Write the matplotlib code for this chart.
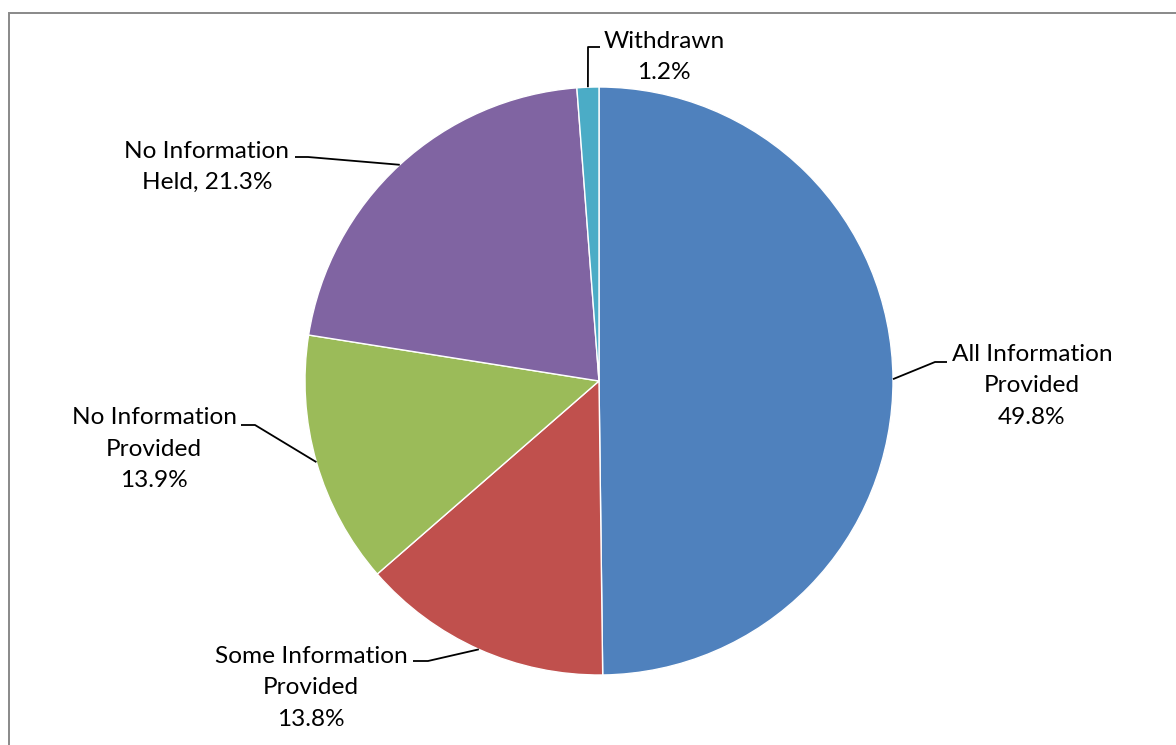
import numpy as np
import matplotlib.pyplot as plt
from matplotlib.patches import Rectangle

categories = ["All Information\nProvided", "Some Information\nProvided",
              "No Information\nProvided", "No Information\nHeld", "Withdrawn"]
shares = [49.8, 13.8, 13.9, 21.3, 1.2]
colors = ["#4F81BD", "#C0504D", "#9BBB59", "#8064A2", "#4BACC6"]
label_texts = ["All Information\nProvided\n49.8%", "Some Information\nProvided\n13.8%",
               "No Information\nProvided\n13.9%", "No Information\nHeld, 21.3%",
               "Withdrawn\n1.2%"]

W, H = 1176, 745
fig = plt.figure(figsize=(W / 100, H / 100), dpi=100)
ax = fig.add_axes([0, 0, 1, 1])

# chart frame (cut off at right and bottom)
fig.patches.append(Rectangle((9 / W, -0.1), 1.2, (H - 13) / H + 0.1,
                             transform=fig.transFigure, fill=False,
                             edgecolor="#898989", linewidth=1.4))

cx, cy, r = 599, H - 381, 294
wedges, _ = ax.pie(shares, colors=colors, startangle=90, counterclock=False,
                   center=(cx, cy), radius=r, frame=True,
                   wedgeprops=dict(edgecolor="white", linewidth=1))
ax.set_xlim(0, W)
ax.set_ylim(0, H)
ax.set_aspect("equal")
ax.axis("off")

# label layout: text centre, elbow and end of leader line (image pixels)
layout = [
    dict(text=(1032, 386), elbow=(935, 362), end=(947, 362)),
    dict(text=(311, 688), elbow=(428, 661), end=(413, 661)),
    dict(text=(154, 449), elbow=(255, 425), end=(241, 425)),
    dict(text=(207, 167), elbow=(308, 157), end=(295, 157)),
    dict(text=(664, 57), elbow=(588, 47), end=(600, 47)),
]

for w, lab, lay in zip(wedges, label_texts, layout):
    ang = np.deg2rad((w.theta1 + w.theta2) / 2)
    ex, ey = cx + r * np.cos(ang), cy + r * np.sin(ang)
    xs = [ex, lay["elbow"][0], lay["end"][0]]
    ys = [ey, H - lay["elbow"][1], H - lay["end"][1]]
    ax.plot(xs, ys, color="black", linewidth=1.3, solid_capstyle="butt")
    ax.text(lay["text"][0], H - lay["text"][1], lab, ha="center", va="center",
            fontsize=17.6, family="Lato", linespacing=1.6, color="black")

fig.savefig("out.png", dpi=100)
